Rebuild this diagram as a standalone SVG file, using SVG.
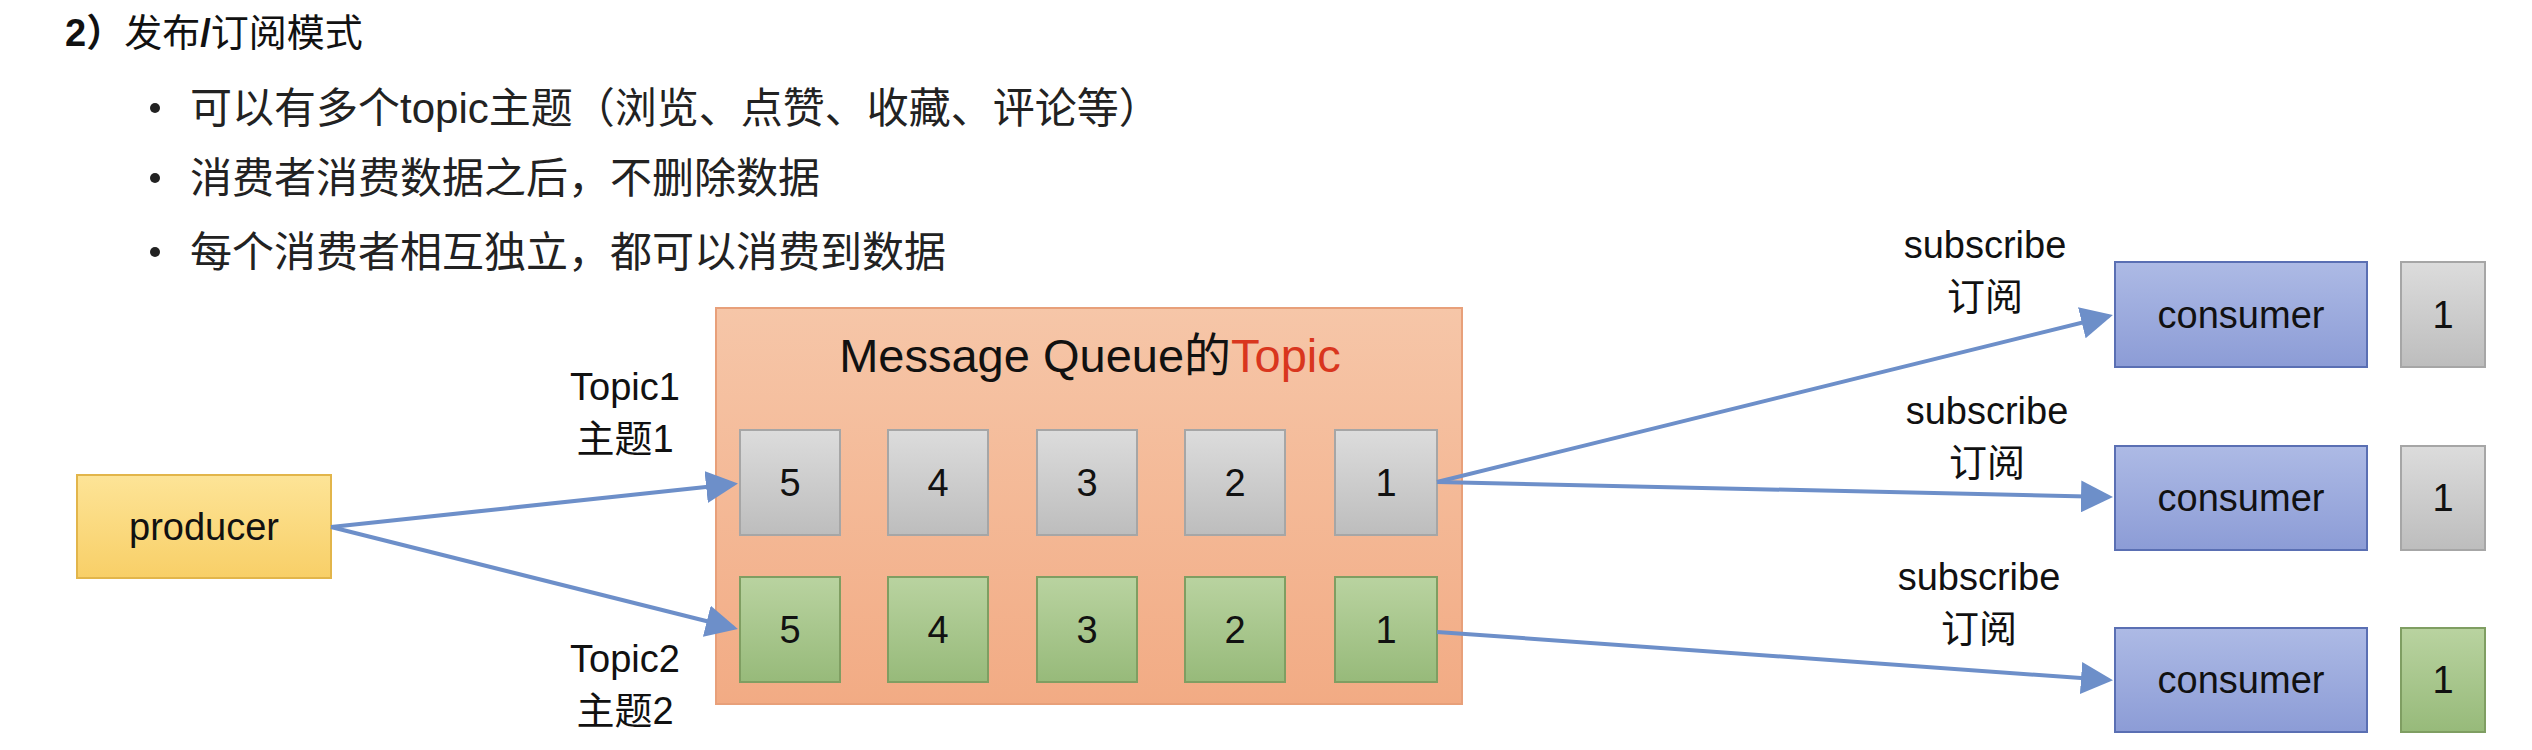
<svg xmlns="http://www.w3.org/2000/svg" width="2532" height="750" viewBox="0 0 2532 750">
<style>
text{font-family:"Liberation Sans","Noto Sans CJK SC",sans-serif;fill:#111}
.h{font-size:38px;font-weight:bold}
.b{font-size:42px;fill:#222}
.n{font-size:38px;text-anchor:middle}
.l{font-size:38px;text-anchor:middle}
.g{stroke:#a6a6a6;stroke-width:2;fill:url(#gg)}
.gr{stroke:#7f9e62;stroke-width:2;fill:url(#gn)}
.c{stroke:#5a6fb3;stroke-width:2;fill:url(#gc)}
.e{stroke:#6d8fc9;stroke-width:4;fill:none;marker-end:url(#ar)}
</style>
<defs>
<linearGradient id="gg" x1="0" y1="0" x2="0" y2="1"><stop offset="0" stop-color="#dcdcdc"/><stop offset="1" stop-color="#bdbdbd"/></linearGradient>
<linearGradient id="gn" x1="0" y1="0" x2="0" y2="1"><stop offset="0" stop-color="#b9d3a0"/><stop offset="1" stop-color="#97ba7a"/></linearGradient>
<linearGradient id="gc" x1="0" y1="0" x2="0" y2="1"><stop offset="0" stop-color="#adbae5"/><stop offset="1" stop-color="#8c9cd6"/></linearGradient>
<linearGradient id="go" x1="0" y1="0" x2="0" y2="1"><stop offset="0" stop-color="#f6c6a8"/><stop offset="1" stop-color="#f2ab84"/></linearGradient>
<linearGradient id="gp" x1="0" y1="0" x2="0" y2="1"><stop offset="0" stop-color="#fde497"/><stop offset="1" stop-color="#f8cf67"/></linearGradient>
<marker id="ar" markerWidth="8" markerHeight="8" refX="7" refY="4" orient="auto" markerUnits="strokeWidth"><path d="M0,0 L8,4 L0,8 z" fill="#6d8fc9"/></marker>
</defs>
<rect width="2532" height="750" fill="#fff"/>
<text class="h" x="65" y="46">2）<tspan font-weight="normal">发布</tspan>/<tspan font-weight="normal">订阅模式</tspan></text>
<g class="b">
<circle cx="155" cy="108" r="5" fill="#222"/><text class="b" x="190" y="123">可以有多个topic主题（浏览、点赞、收藏、评论等）</text>
<circle cx="155" cy="178" r="5" fill="#222"/><text class="b" x="190" y="193">消费者消费数据之后，不删除数据</text>
<circle cx="155" cy="252" r="5" fill="#222"/><text class="b" x="190" y="267">每个消费者相互独立，都可以消费到数据</text>
</g>
<g id="producer"><rect x="77" y="475" width="254" height="103" fill="url(#gp)" stroke="#e2b54a" stroke-width="2"/><text class="n" x="204" y="540">producer</text></g>
<g id="mq">
<rect x="716" y="308" width="746" height="396" fill="url(#go)" stroke="#e8a07a" stroke-width="2"/>
<text x="1090" y="372" font-size="47" text-anchor="middle">Message Queue的<tspan fill="#d9361e">Topic</tspan></text>
</g>
<g id="topic1">
<rect class="g" x="740" y="430" width="100" height="105"/><text class="n" x="790" y="496">5</text>
<rect class="g" x="888" y="430" width="100" height="105"/><text class="n" x="938" y="496">4</text>
<rect class="g" x="1037" y="430" width="100" height="105"/><text class="n" x="1087" y="496">3</text>
<rect class="g" x="1185" y="430" width="100" height="105"/><text class="n" x="1235" y="496">2</text>
<rect class="g" x="1335" y="430" width="102" height="105"/><text class="n" x="1386" y="496">1</text>
</g>
<g id="topic2">
<rect class="gr" x="740" y="577" width="100" height="105"/><text class="n" x="790" y="643">5</text>
<rect class="gr" x="888" y="577" width="100" height="105"/><text class="n" x="938" y="643">4</text>
<rect class="gr" x="1037" y="577" width="100" height="105"/><text class="n" x="1087" y="643">3</text>
<rect class="gr" x="1185" y="577" width="100" height="105"/><text class="n" x="1235" y="643">2</text>
<rect class="gr" x="1335" y="577" width="102" height="105"/><text class="n" x="1386" y="643">1</text>
</g>
<g id="labels">
<text class="l" x="625" y="400">Topic1</text><text class="l" x="625" y="452">主题1</text>
<text class="l" x="625" y="672">Topic2</text><text class="l" x="625" y="724">主题2</text>
<text class="l" x="1985" y="258">subscribe</text><text class="l" x="1985" y="310">订阅</text>
<text class="l" x="1987" y="424">subscribe</text><text class="l" x="1987" y="476">订阅</text>
<text class="l" x="1979" y="590">subscribe</text><text class="l" x="1979" y="642">订阅</text>
</g>
<g id="consumer1"><rect class="c" x="2115" y="262" width="252" height="105"/><text class="n" x="2241" y="328">consumer</text><rect class="g" x="2401" y="262" width="84" height="105"/><text class="n" x="2443" y="328">1</text></g>
<g id="consumer2"><rect class="c" x="2115" y="446" width="252" height="104"/><text class="n" x="2241" y="511">consumer</text><rect class="g" x="2401" y="446" width="84" height="104"/><text class="n" x="2443" y="511">1</text></g>
<g id="consumer3"><rect class="c" x="2115" y="628" width="252" height="104"/><text class="n" x="2241" y="693">consumer</text><rect class="gr" x="2401" y="628" width="84" height="104"/><text class="n" x="2443" y="693">1</text></g>
<g id="connectors">
<line class="e" x1="331" y1="527" x2="734" y2="484"/>
<line class="e" x1="331" y1="527" x2="734" y2="628"/>
<line class="e" x1="1437" y1="482" x2="2109" y2="316"/>
<line class="e" x1="1437" y1="482" x2="2109" y2="497"/>
<line class="e" x1="1437" y1="632" x2="2109" y2="680"/>
</g>
</svg>
